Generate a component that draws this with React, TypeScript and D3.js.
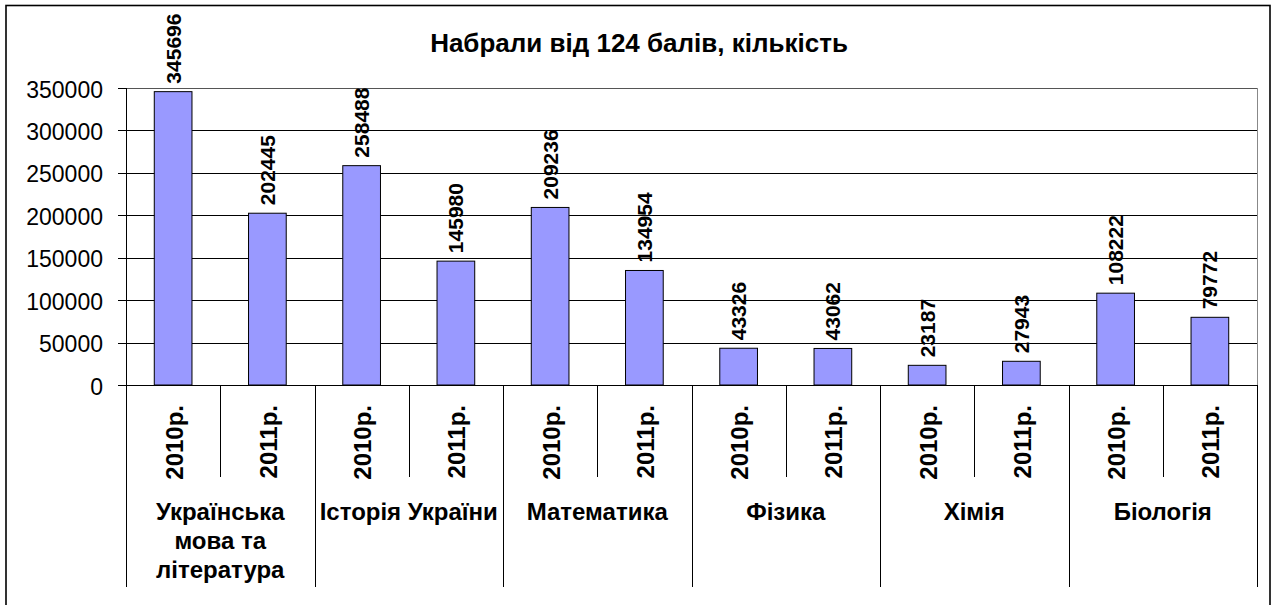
import React from "react";
import * as d3 from "d3";

const title = "Набрали від 124 балів, кількість";
const groupLines: string[][] = [
  ["Українська", "мова та", "література"],
  ["Історія України"],
  ["Математика"],
  ["Фізика"],
  ["Хімія"],
  ["Біологія"],
];
const years = ["2010р.", "2011р."];
const values2010 = [345696, 258488, 209236, 43326, 23187, 108222];
const values2011 = [202445, 145980, 134954, 43062, 27943, 79772];
const yTicks = [0, 50000, 100000, 150000, 200000, 250000, 300000, 350000];

const FONT = "'Liberation Sans', Arial, sans-serif";

export default function App() {
  const W = 1275;
  const H = 605;
  const left = 126;
  const right = 1257;
  const top = 88;
  const bottom = 385;

  const cats: { key: string; g: number; year: string; value: number }[] = [];
  groupLines.forEach((_, g) => {
    years.forEach((yr, j) => {
      cats.push({ key: `${g}-${j}`, g, year: yr, value: j === 0 ? values2010[g] : values2011[g] });
    });
  });

  const x = d3.scaleBand<string>().domain(cats.map((c) => c.key)).range([left, right]).padding(0);
  const y = d3.scaleLinear().domain([0, 350000]).range([bottom, top]);
  const bw = x.bandwidth();
  const barW = bw / 2.5;
  const groupW = bw * years.length;

  return (
    <div style={{ position: "fixed", left: 0, top: 0 }}>
      <svg width={W} height={H} style={{ display: "block", background: "#fff" }} fontFamily={FONT}>
        <rect x={0} y={0} width={W} height={H} fill="#fff" />
        <rect x={6} y={5.5} width={1264} height={700} fill="none" stroke="#000" strokeWidth={1.6} />
        <text x={639} y={52} textAnchor="middle" fontSize={26} fontWeight="bold">{title}</text>

        {/* gridlines */}
        {yTicks.map((t) => (
          <line key={"g" + t} x1={left} x2={right} y1={Math.round(y(t)) + 0.5} y2={Math.round(y(t)) + 0.5} stroke={t === 350000 ? "#555" : "#000"} strokeWidth={1} />
        ))}
        <line x1={right + 0.5} x2={right + 0.5} y1={top} y2={bottom} stroke="#888" strokeWidth={1} />

        {/* bars */}
        {cats.map((c) => {
          const cx = (x(c.key) as number) + bw / 2;
          return (
            <rect key={"b" + c.key} x={cx - barW / 2} y={y(c.value)} width={barW} height={bottom - y(c.value)} fill="#9999FF" stroke="#000" strokeWidth={1} />
          );
        })}

        {/* value labels */}
        {cats.map((c) => {
          const cx = (x(c.key) as number) + bw / 2;
          const ty = y(c.value) - 8;
          return (
            <text key={"v" + c.key} transform={`translate(${cx},${ty}) rotate(-90)`} textAnchor="start" dominantBaseline="central" fontSize={21} fontWeight="bold">{c.value}</text>
          );
        })}

        {/* y axis */}
        <line x1={left + 0.5} x2={left + 0.5} y1={top} y2={587} stroke="#000" strokeWidth={1} />
        {yTicks.map((t) => (
          <g key={"t" + t}>
            <line x1={118} x2={left} y1={Math.round(y(t)) + 0.5} y2={Math.round(y(t)) + 0.5} stroke="#000" />
            <text x={103} y={y(t) + 1.5} textAnchor="end" dominantBaseline="central" fontSize={23}>{t}</text>
          </g>
        ))}

        {/* x axis line */}
        <line x1={left} x2={right} y1={bottom + 0.5} y2={bottom + 0.5} stroke="#000" />

        {/* category separators */}
        {d3.range(cats.length + 1).map((i) => {
          const sx = Math.round(left + i * bw) + 0.5;
          const isGroup = i % years.length === 0;
          return <line key={"s" + i} x1={sx} x2={sx} y1={bottom} y2={isGroup ? 587 : 477} stroke="#000" />;
        })}

        {/* year labels */}
        {cats.map((c) => {
          const cx = (x(c.key) as number) + bw / 2;
          return (
            <text key={"y" + c.key} transform={`translate(${cx + 1},405) rotate(-90)`} textAnchor="end" dominantBaseline="central" fontSize={24} fontWeight="bold">{c.year}</text>
          );
        })}

        {/* group labels */}
        {groupLines.map((lines, g) => {
          const gx = left + g * groupW + groupW / 2;
          return (
            <text key={"gl" + g} x={gx} y={520} textAnchor="middle" fontSize={24} fontWeight="bold">
              {lines.map((ln, k) => (
                <tspan key={k} x={gx} dy={k === 0 ? 0 : 29}>{ln}</tspan>
              ))}
            </text>
          );
        })}
      </svg>
    </div>
  );
}
